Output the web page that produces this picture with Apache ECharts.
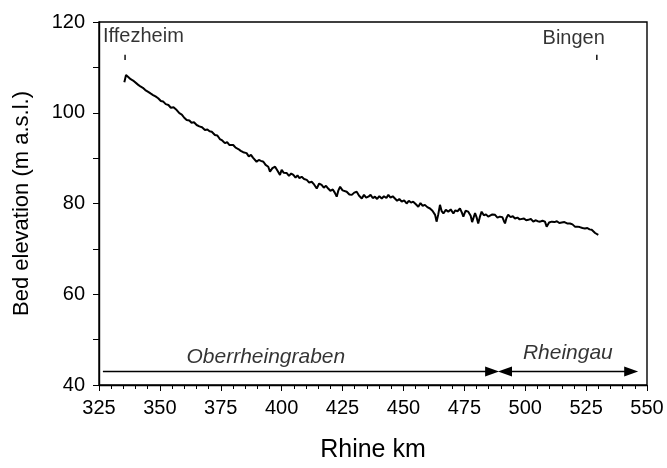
<!DOCTYPE html>
<html>
<head>
<meta charset="utf-8">
<script src="https://cdn.jsdelivr.net/npm/echarts@6/dist/echarts.min.js"></script>
<style>
  html, body { margin: 0; padding: 0; background: #fff; }
  #chart { width: 667px; height: 468px; }
</style>
</head>
<body>
<div id="chart"></div>
<script>
// Rhine km of each profile point
var km = [
  335.4, 336.1, 337.0, 338.0, 339.0, 339.8, 341.0, 342.0, 343.0, 344.0,
  345.2, 346.3, 347.2, 348.2, 349.3, 350.4, 351.3, 352.4, 353.5, 354.5,
  355.6, 356.9, 358.0, 359.0, 360.0, 361.0, 362.1, 363.0, 364.0, 365.1,
  366.2, 367.3, 368.5, 369.5, 370.4, 371.3, 372.6, 373.6, 374.6, 375.6,
  376.7, 377.6, 378.5, 379.3, 380.1, 381.1, 382.2, 383.2, 384.2, 385.6,
  386.5, 387.4, 388.2, 389.0, 389.7, 390.6, 391.5, 392.5, 393.4, 394.5,
  395.2, 396.2, 397.3, 398.3, 399.3, 400.0, 400.8, 401.4, 402.1, 403.0,
  403.9, 404.8, 405.7, 406.5, 407.3, 408.2, 409.2, 410.3, 411.3, 412.3,
  413.3, 414.4, 415.4, 416.4, 417.3, 418.2, 419.1, 420.0, 421.0, 421.8,
  422.6, 423.3, 424.0, 425.0, 425.8, 426.7, 427.8, 428.8, 429.8, 430.8,
  431.8, 432.9, 433.8, 434.7, 435.6, 436.5, 437.4, 438.3, 439.2, 440.1,
  441.1, 442.0, 443.0, 443.8, 444.7, 445.6, 446.5, 447.4, 448.3, 449.3,
  450.3, 451.3, 452.2, 453.1, 454.0, 455.0, 456.1, 457.0, 457.9, 458.8,
  459.8, 460.9, 461.9, 463.0, 463.6, 464.3, 465.0, 465.7, 466.4, 467.4,
  468.4, 469.4, 470.5, 471.3, 472.2, 473.2, 474.0, 474.6, 475.5, 476.6,
  477.6, 478.2, 478.7, 479.4, 480.0, 480.7, 481.4, 482.1, 483.0, 483.9,
  484.8, 485.5, 486.5, 487.6, 488.6, 489.6, 490.6, 491.2, 491.7, 492.3,
  493.0, 494.0, 494.9, 495.8, 496.8, 497.7, 498.5, 499.5, 500.4, 501.3,
  502.3, 503.3, 504.2, 505.1, 506.1, 507.1, 508.1, 508.8, 509.8, 510.9,
  512.0, 513.0, 514.0, 515.0, 516.1, 517.2, 518.4, 519.4, 520.4, 521.4,
  522.4, 523.5, 524.5, 525.5, 526.4, 527.3, 528.1, 528.7, 529.4, 530.0
];
// bed elevation (m a.s.l.)
var elevation = [
  106.7, 108.3, 107.9, 107.4, 107.1, 106.8, 106.2, 105.8, 105.5, 105.0,
  104.6, 104.2, 103.9, 103.6, 103.2, 102.6, 102.5, 101.9, 101.7, 101.1,
  101.2, 100.6, 99.9, 99.6, 98.9, 98.4, 98.3, 97.8, 97.9, 97.3,
  97.0, 96.8, 96.2, 96.3, 95.9, 95.8, 95.1, 95.0, 94.2, 93.9,
  93.3, 93.5, 92.9, 93.2, 92.9, 92.3, 92.0, 91.6, 91.3, 91.1,
  90.4, 90.7, 90.1, 90.0, 89.2, 89.6, 89.4, 89.2, 88.5, 88.1,
  87.0, 87.8, 88.1, 87.2, 86.3, 87.4, 86.8, 87.1, 86.7, 86.1,
  86.6, 86.3, 85.7, 86.2, 85.6, 85.9, 85.4, 85.2, 84.6, 84.8,
  84.2, 83.3, 84.4, 84.1, 83.5, 83.9, 83.3, 82.8, 83.1, 82.4,
  81.5, 82.9, 83.7, 82.9, 83.1, 82.6, 82.0, 81.9, 82.4, 82.6,
  81.7, 81.1, 81.9, 81.3, 81.5, 81.9, 81.2, 81.5, 81.0, 81.6,
  81.1, 81.6, 81.2, 81.9, 81.3, 81.6, 81.1, 80.6, 81.0, 80.4,
  80.7, 80.0, 80.6, 80.2, 80.4, 79.9, 79.3, 80.1, 79.5, 79.7,
  79.2, 78.9, 78.4, 77.5, 76.0, 77.6, 79.7, 78.3, 77.8, 78.6,
  78.2, 78.7, 77.8, 78.5, 78.3, 78.9, 78.0, 77.1, 78.4, 78.2,
  77.3, 75.9, 76.0, 77.9, 77.0, 75.6, 77.1, 78.2, 77.4, 77.6,
  77.1, 77.1, 77.6, 77.5, 76.9, 77.1, 77.0, 76.2, 75.6, 76.8,
  77.5, 77.0, 77.2, 76.7, 76.9, 76.5, 76.4, 76.7, 76.3, 76.4,
  76.6, 76.0, 76.3, 76.1, 76.0, 76.2, 76.0, 74.9, 75.8, 76.0,
  75.9, 76.1, 75.7, 75.8, 75.9, 75.6, 75.6, 75.4, 74.9, 74.9,
  74.8, 74.6, 74.5, 74.6, 74.3, 74.2, 74.0, 73.5, 73.4, 73.1
];

// place markers (km) and their labels
var placeKm = [335.7, 529.4];
var placeNames = ['Iffezheim', 'Bingen'];
var placeMarkLow = 111.6, placeMarkHigh = 112.8;

// reach arrows: from km, to km, label km
var reachNames = ['Oberrheingraben', 'Rheingau'];
var reachFrom = [326.6, 491.7];
var reachTo = [486.4, 543.5];
var reachLabelKm = [393.5, 517.5];
var reachY = 43;

var profile = km.map(function (k, i) { return [k, elevation[i]]; });

var myChart = echarts.init(document.getElementById('chart'));

var font = 'Liberation Sans, Arial, sans-serif';

var series = [{
    type: 'line',
    data: profile,
    showSymbol: false,
    symbol: 'none',
    lineStyle: { color: '#000', width: 2 },
    z: 5
}];

// little tick marks for Iffezheim / Bingen
placeKm.forEach(function (k) {
    series.push({
        type: 'line',
        data: [[k, placeMarkLow], [k, placeMarkHigh]],
        symbol: 'none',
        lineStyle: { color: '#000', width: 1.4 }
    });
});

// place labels
series.push({
    type: 'scatter',
    symbolSize: 0,
    data: [
        { value: [placeKm[0], placeMarkHigh], name: placeNames[0],
          label: { align: 'left', offset: [-22, -3] } },
        { value: [placeKm[1], placeMarkHigh], name: placeNames[1],
          label: { align: 'right', offset: [8, -1] } }
    ],
    label: {
        show: true,
        position: 'top',
        formatter: '{b}',
        color: '#000',
        fontFamily: font,
        fontSize: 20
    }
});

// reach arrows
series.push({
    type: 'line',
    data: [],
    markLine: {
        silent: true,
        animation: false,
        symbolSize: [10, 14],
        lineStyle: { color: '#000', width: 1.4, type: 'solid' },
        label: { show: false },
        data: [
            [{ coord: [reachFrom[0], reachY], symbol: 'none' },
             { coord: [reachTo[0], reachY], symbol: 'triangle' }],
            [{ coord: [reachFrom[1], reachY], symbol: 'triangle' },
             { coord: [reachTo[1], reachY], symbol: 'triangle' }]
        ]
    }
});

series.push({
    type: 'scatter',
    symbolSize: 0,
    data: [
        { value: [reachLabelKm[0], reachY], name: reachNames[0] },
        { value: [reachLabelKm[1], reachY], name: reachNames[1],
          label: { offset: [0, -4] } }
    ],
    label: {
        show: true,
        position: 'top',
        distance: 4,
        formatter: '{b}',
        color: '#000',
        fontFamily: font,
        fontStyle: 'italic',
        fontSize: 21
    }
});

myChart.setOption({
    animation: false,
    backgroundColor: '#fff',
    grid: {
        left: 99,
        right: 20,
        top: 22,
        bottom: 82,
        show: true,
        borderColor: '#000',
        borderWidth: 1.4
    },
    xAxis: {
        type: 'value',
        min: 325,
        max: 550,
        interval: 25,
        name: 'Rhine km',
        nameLocation: 'middle',
        nameGap: 53,
        nameTextStyle: { color: '#000', fontSize: 25, fontFamily: font },
        axisLine: { onZero: false, lineStyle: { color: '#000', width: 1.4 } },
        axisTick: { show: true, inside: false, length: 6, lineStyle: { color: '#000' } },
        minorTick: { show: true, splitNumber: 5, length: 4, lineStyle: { color: '#000' } },
        splitLine: { show: false },
        axisLabel: { color: '#000', fontSize: 20, fontFamily: font, margin: 13 }
    },
    yAxis: {
        type: 'value',
        min: 40,
        max: 120,
        interval: 20,
        name: 'Bed elevation (m a.s.l.)',
        nameLocation: 'middle',
        nameGap: 66,
        nameTextStyle: { color: '#000', fontSize: 22, fontFamily: font },
        axisLine: { onZero: false, lineStyle: { color: '#000', width: 1.4 } },
        axisTick: { show: true, inside: false, length: 6, lineStyle: { color: '#000' } },
        minorTick: { show: true, splitNumber: 2, length: 6, lineStyle: { color: '#000' } },
        splitLine: { show: false },
        axisLabel: { color: '#000', fontSize: 20, fontFamily: font, margin: 14 }
    },
    series: series
});
</script>
</body>
</html>
